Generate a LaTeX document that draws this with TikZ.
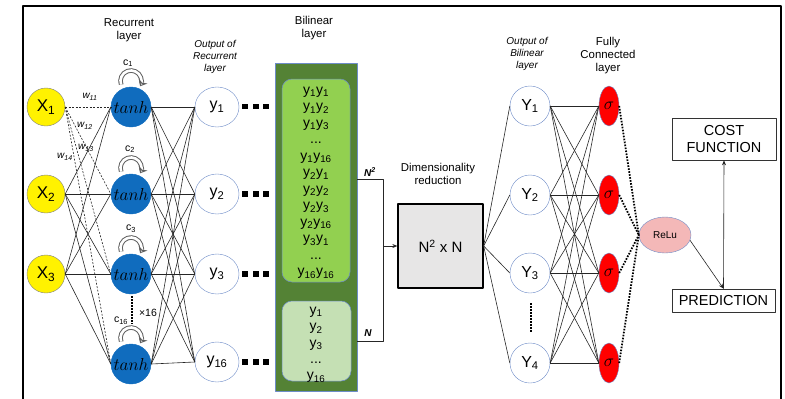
\documentclass[tikz,border=0pt]{standalone}
\usepackage{fontspec}
\setmainfont{Liberation Sans}
\usetikzlibrary{shapes.geometric,arrows.meta}
\definecolor{tanhblue}{RGB}{16,108,190}
\definecolor{ringblue}{RGB}{110,140,200}
\definecolor{darkgreen}{RGB}{84,130,53}
\definecolor{lightgreen}{RGB}{146,208,80}
\definecolor{palegreen}{RGB}{197,224,180}
\definecolor{boxgray}{RGB}{231,230,230}
\definecolor{relupink}{RGB}{244,184,184}
\definecolor{loopgray}{RGB}{95,95,95}
\newcommand\sbs[1]{\textsubscript{#1}}
\newcommand\fsz[2]{\fontsize{#1}{#2}\selectfont}
\begin{document}
\begin{tikzpicture}[x=1pt,y=-1pt,line join=round,
 xnode/.style={circle,draw=gray,fill=yellow,minimum size=38pt,inner sep=0pt,font=\fsz{17}{17}},
 tnode/.style={circle,draw=tanhblue,fill=tanhblue,minimum size=40pt,inner sep=0pt,font=\fsz{16}{16}},
 ynode/.style={ellipse,draw=ringblue,fill=white,minimum width=44pt,minimum height=40pt,inner sep=0pt,font=\fsz{16}{16}},
 bigy/.style={circle,draw=ringblue,fill=white,minimum size=40pt,inner sep=0pt,font=\fsz{16}{16}},
 signode/.style={ellipse,draw=ringblue,fill=red,minimum width=20pt,minimum height=40pt,inner sep=0pt,font=\fsz{18}{18}},
 conn/.style={draw=black!85,line width=0.6pt},
 wconn/.style={conn,dash pattern=on 2pt off 1.5pt},
 dotconn/.style={draw=black,line width=1.8pt,dash pattern=on 1.6pt off 1.4pt},
 dotv/.style={draw=black,line width=1.8pt,dash pattern=on 1.5pt off 1.5pt},
 title/.style={align=center,font=\fsz{11.4}{13},inner sep=0pt},
 ititle/.style={align=center,font=\fsz{10}{12}\itshape,inner sep=0pt},
 smalllab/.style={font=\fsz{10.5}{10.5},inner sep=0pt},
 arrowtip/.style={-{Stealth[length=5pt,width=4pt]}},
 selfloop/.pic={\draw[loopgray,line width=1pt,double=white,double distance=2.6pt,-{Stealth[length=6pt,width=10pt,open]}] (200:10.5pt) arc[start angle=200,end angle=-30,radius=10.5pt];}
]
\useasboundingbox (0,0) rectangle (785,399);
% frame
\draw[line width=2pt] (23,399) -- (23,6) -- (781,6) -- (781,399);

% titles
\node[title] (tRec) at (129,30.5) {Recurrent\\layer};
\node[ititle] (tOutRec) at (215,57) {Output of\\Recurrent\\layer};
\node[title] (tBil) at (314,28) {Bilinear\\layer};
\node[title] (tDim) at (438,173.5) {Dimensionality\\reduction};
\node[ititle] (tOutBil) at (527,54) {Output of\\Bilinear\\layer};
\node[title] (tFC) at (608,56) {Fully\\Connected\\layer};

% self loops
\pic at (131,81) {selfloop};
\pic at (131,168) {selfloop};
\pic at (131,248) {selfloop};
\pic at (131,338) {selfloop};
\node[smalllab] (c1) at (128,63) {c\sbs{1}};
\node[smalllab] (c2) at (130,149) {c\sbs{2}};
\node[smalllab] (c3) at (131,229) {c\sbs{3}};
\node[smalllab] (c16) at (121,321) {c\sbs{16}};
\node[smalllab] (x16) at (148,313) {×16};

% input nodes
\node[xnode] (x1) at (46,107) {X\sbs{1}};
\node[xnode] (x2) at (46,194) {X\sbs{2}};
\node[xnode] (x3) at (46,274) {X\sbs{3}};

% tanh nodes
\node[tnode] (t1) at (131,107) {$tanh$};
\node[tnode] (t2) at (131,194) {$tanh$};
\node[tnode] (t3) at (131,274) {$tanh$};
\node[tnode] (t4) at (131,364) {$tanh$};
\draw[dotv] (t3.south) ++(1,2) -- ++(0,28);

% output of recurrent
\node[ynode] (y1) at (217,107) {y\sbs{1}};
\node[ynode] (y2) at (217,194) {y\sbs{2}};
\node[ynode] (y3) at (217,274) {y\sbs{3}};
\node[ynode] (y4) at (217,362) {y\sbs{16}};

% square dots
\foreach \yy in {106.5,194,274,362}{
  \foreach \xx in {245,256,266}{
    \fill (\xx-2.7,\yy-2.7) rectangle ++(5.4,5.4);
  }
}

% connections X -> tanh
\foreach \j in {1,...,4}{\draw[wconn] (x1.east) -- (t\j.west);}
\foreach \i in {2,3}{\foreach \j in {1,...,4}{\draw[conn] (x\i.east) -- (t\j.west);}}
% tanh -> y
\foreach \i in {1,...,4}{\foreach \j in {1,...,4}{\draw[conn] (t\i.east) -- (y\j.west);}}

% weight labels
\node[smalllab,font=\fsz{10}{10}\itshape] (w11) at (90,97) {w\sbs{11}};
\node[smalllab,font=\fsz{10}{10}\itshape] (w12) at (85,126) {w\sbs{12}};
\node[smalllab,font=\fsz{10}{10}\itshape] (w13) at (86,148) {w\sbs{13}};
\node[smalllab,font=\fsz{10}{10}\itshape] (w14) at (65,157) {w\sbs{14}};

% bilinear layer
\node[draw=ringblue,line width=0.5pt,fill=darkgreen,minimum width=82pt,minimum height=328pt,inner sep=0pt] (bil) at (316,227) {};
\node[draw=ringblue,line width=0.5pt,fill=lightgreen,rounded corners=10pt,minimum width=68pt,minimum height=203pt,inner sep=0pt] (up) at (316,180.5) {};
\node[draw=ringblue,line width=0.5pt,fill=palegreen,rounded corners=10pt,minimum width=69pt,minimum height=80pt,inner sep=0pt] (low) at (316.5,341) {};
\node[align=center,font=\fsz{14}{16.5},inner sep=0pt] (uptext) at (316,183) {y\sbs{1}y\sbs{1}\\y\sbs{1}y\sbs{2}\\y\sbs{1}y\sbs{3}\\...\\y\sbs{1}y\sbs{16}\\y\sbs{2}y\sbs{1}\\y\sbs{2}y\sbs{2}\\y\sbs{2}y\sbs{3}\\y\sbs{2}y\sbs{16}\\y\sbs{3}y\sbs{1}\\...\\y\sbs{16}y\sbs{16}};
\node[align=center,font=\fsz{14}{16.3},inner sep=0pt] (lowtext) at (316,345) {y\sbs{1}\\y\sbs{2}\\y\sbs{3}\\...\\y\sbs{16}};

% to dimensionality reduction
\node[draw=black,line width=1.3pt,fill=boxgray,minimum width=85pt,minimum height=84pt,inner sep=0pt,font=\fsz{15}{15}] (box) at (440.5,246) {N\textsuperscript{2} x N};
\coordinate (jt) at (383,179);
\coordinate (jb) at (383,341);
\draw[conn] (bil.east |- jt) -- (jt) -- (jb) -- (bil.east |- jb);
\draw[conn,arrowtip] (jt |- box.west) -- (box.west);
\node[smalllab,font=\fsz{10}{10}\bfseries\itshape] (n2) at (370,172) {N\textsuperscript{2}};
\node[smalllab,font=\fsz{10}{10}\bfseries\itshape] (n1) at (368,333) {N};

% output of bilinear
\node[bigy] (Y1) at (530,106) {Y\sbs{1}};
\node[bigy] (Y2) at (530,195) {Y\sbs{2}};
\node[bigy] (Y3) at (530,273) {Y\sbs{3}};
\node[bigy] (Y4) at (530,363) {Y\sbs{4}};
\draw[dotv] (531,303) -- (531,333);
\foreach \j in {1,...,4}{\draw[conn] (box.east) -- (Y\j.west);}

% fully connected
\node[signode] (s1) at (609,106) {$\sigma$};
\node[signode] (s2) at (609,195) {$\sigma$};
\node[signode] (s3) at (609,273) {$\sigma$};
\node[signode] (s4) at (609,363) {$\sigma$};
\foreach \i in {1,...,4}{\foreach \j in {1,...,4}{\draw[conn] (Y\i.east) -- (s\j.west);}}

% relu
\node[ellipse,draw=ringblue,fill=relupink,minimum width=52pt,minimum height=36pt,inner sep=0pt,font=\fsz{10}{10}] (relu) at (665,235) {ReLu};
\foreach \i in {1,...,4}{\draw[dotconn] (s\i.east) -- (relu.west);}

% cost / prediction
\node[draw=black!80,line width=0.7pt,fill=white,minimum width=104pt,minimum height=42pt,inner sep=0pt,align=center,font=\fsz{14.5}{17}] (cost) at (724,139) {COST\\FUNCTION};
\node[draw=black!80,line width=0.7pt,fill=white,minimum width=103pt,minimum height=23pt,inner sep=0pt,font=\fsz{14.5}{14.5}] (pred) at (723.5,300.5) {PREDICTION};
\draw[conn,arrowtip] (relu.-12) -- (pred.north);
\draw[conn,arrowtip] (pred.north) -- (cost.south);
\end{tikzpicture}
\end{document}
